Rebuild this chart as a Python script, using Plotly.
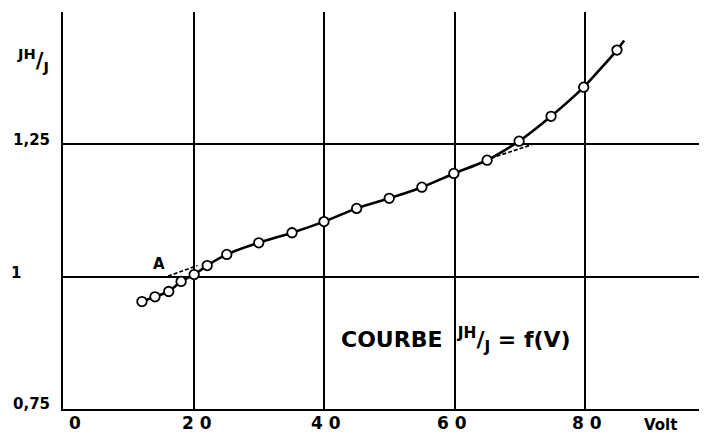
import plotly.graph_objects as go

# ---- data ----
volts = [12.1, 14.1, 16.2, 18.1, 20.1, 22.1, 25.1, 30.0, 35.1, 40.0, 45.0, 50.0,
         55.0, 59.9, 65.0, 69.9, 74.8, 79.8, 84.9]
ratio = [0.953, 0.962, 0.972, 0.991, 1.004, 1.021, 1.042, 1.064, 1.083, 1.104, 1.129,
         1.148, 1.169, 1.195, 1.220, 1.256, 1.303, 1.358, 1.428]
curve_end_v = [86.0]
curve_end_j = [1.446]
tangent_low_v = [16.1, 20.6]
tangent_low_j = [1.001, 1.021]
tangent_high_v = [65.6, 71.8]
tangent_high_j = [1.224, 1.249]

x_tick_vals = [0, 20, 40, 60, 80]
x_tick_text = ["0", "2 0", "4 0", "6 0", "8 0"]
y_tick_vals = [0.75, 1.0, 1.25, 1.5]
y_tick_text = ["0,75", "1", "1,25", ""]
x_unit = "Volt"
y_title = "<b><sup>JH</sup>/<sub>J</sub></b>"
curve_title = "<b>COURBE\u00a0\u00a0<sup>JH</sup>/<sub>J</sub> = f(V)</b>"
point_label = "A"

# page offset (browser body margin)
OFF = 8
PAGE_W, PAGE_H = 707, 435
PL, PR, PT, PB = 63, 707, 12, 409          # plot area in page pixels
W, H = PAGE_W - OFF, PAGE_H - OFF
L, R, T, B = PL - OFF, PAGE_W - PR, PT - OFF, (OFF + H) - PB
pw, ph = PR - PL, PB - PT
XMAX = pw / 6.525
FONT = "DejaVu Sans"

fig = go.Figure()
fig.add_trace(go.Scatter(x=volts + curve_end_v, y=ratio + curve_end_j, mode="lines",
                         line=dict(color="black", width=2.6, shape="spline", smoothing=0.6),
                         hoverinfo="skip"))
fig.add_trace(go.Scatter(x=tangent_low_v, y=tangent_low_j, mode="lines",
                         line=dict(color="black", width=1.7, dash="4px,2px")))
fig.add_trace(go.Scatter(x=tangent_high_v, y=tangent_high_j, mode="lines",
                         line=dict(color="black", width=1.7, dash="4px,2px")))
fig.add_trace(go.Scatter(x=volts, y=ratio, mode="markers",
                         marker=dict(symbol="circle", size=9.5, color="white",
                                     line=dict(color="black", width=1.8))))

def px_x(px):
    return (px - PL) / pw

def px_y(py):
    return (PB - py) / ph

def label(text, cx, cy, size, yanchor="middle"):
    return dict(text=text, x=px_x(cx), y=px_y(cy), xref="paper", yref="paper",
                xanchor="center", yanchor=yanchor, showarrow=False,
                font=dict(family=FONT, size=size, color="black"))

ann = []
x_label_px = [75, 197, 326, 452, 587]
for txt, cx in zip(x_tick_text, x_label_px):
    ann.append(label("<b>" + txt + "</b>", cx, 423, 17))
ann.append(label("<b>" + x_unit + "</b>", 660, 425, 15))
y_label_px = [(31, 404), (16, 273), (31, 140)]
for txt, (cx, cy) in zip(y_tick_text[:3], y_label_px):
    ann.append(label("<b>" + txt + "</b>", cx, cy, 15))
ann.append(label(y_title, 33, 60, 21))
ann.append(label(curve_title, 456, 340, 22))
ann.append(label("<b>" + point_label + "</b>", 159, 264, 15))

fig.update_layout(
    width=W, height=H, margin=dict(l=L, r=R, t=T, b=B, pad=0),
    paper_bgcolor="white", plot_bgcolor="white", showlegend=False,
    annotations=ann,
    xaxis=dict(range=[0, XMAX], tickvals=x_tick_vals, showticklabels=False,
               showgrid=True, gridcolor="black", gridwidth=1.5, zeroline=False,
               showline=True, linecolor="black", linewidth=1.5, ticks=""),
    yaxis=dict(range=[0.75, 1.5], tickvals=y_tick_vals, showticklabels=False,
               showgrid=True, gridcolor="black", gridwidth=1.5, zeroline=False,
               showline=True, linecolor="black", linewidth=1.5, ticks=""),
)
fig.write_html("out.html")
